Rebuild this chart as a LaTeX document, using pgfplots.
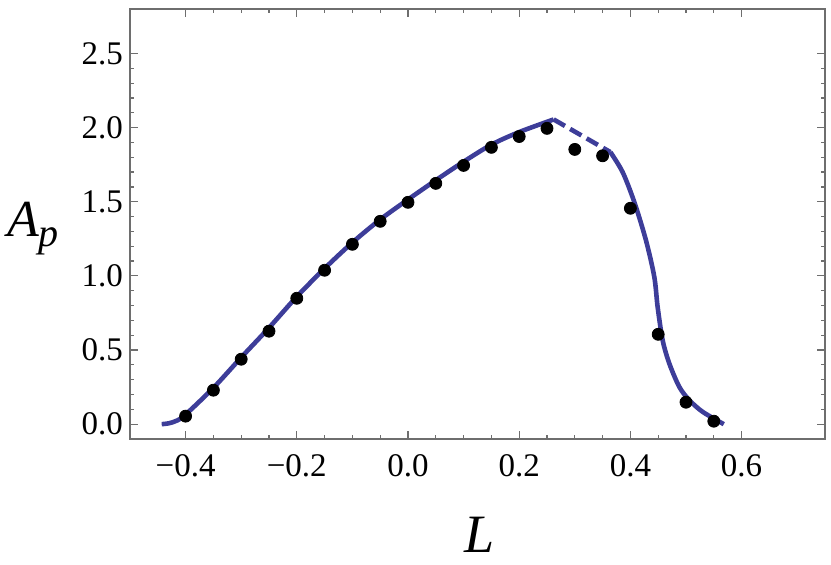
\documentclass[border=0pt]{standalone}
\usepackage{pgfplots}
\pgfplotsset{compat=1.18}
\usepackage{fontspec}
\setmainfont{Liberation Serif}
\definecolor{mmablue}{RGB}{61,61,153}
\definecolor{framegray}{RGB}{110,110,110}
\begin{document}
\begin{tikzpicture}
\begin{axis}[
    scale only axis,
    width=347.5pt, height=215pt,
    xmin=-0.5, xmax=0.75,
    ymin=-0.1, ymax=2.8,
    axis line style={framegray, line width=0.6pt},
    tick style={framegray, line width=0.6pt},
    major tick length=4pt,
    minor tick length=2pt,
    tick align=inside,
    xtick={-0.4,-0.2,0,0.2,0.4,0.6},
    xticklabels={−0.4,−0.2,0.0,0.2,0.4,0.6},
    ytick={0,0.5,1,1.5,2,2.5},
    yticklabels={0.0,0.5,1.0,1.5,2.0,2.5},
    minor x tick num=3,
    minor y tick num=4,
    ticklabel style={font=\fontsize{16.5}{18}\selectfont, black},
    xticklabel style={yshift=-4pt},
    yticklabel style={xshift=0pt},
    clip=false,
]
    % fitted curve
    \addplot[mmablue, line width=2.3pt, smooth, tension=0.5] coordinates {
        (-0.443,0.0) (-0.43,0.006) (-0.415,0.025) (-0.4,0.065)
        (-0.35,0.245) (-0.3,0.45) (-0.25,0.65) (-0.2,0.86)
        (-0.15,1.05) (-0.1,1.225) (-0.05,1.38) (0,1.515)
        (0.05,1.645) (0.1,1.77) (0.15,1.885) (0.2,1.97)
        (0.262,2.055)
    };
    \addplot[mmablue, line width=2.3pt, dash pattern=on 6.5pt off 3pt] coordinates {
        (0.262,2.055) (0.364,1.835)
    };
    \addplot[mmablue, line width=2.3pt, smooth, tension=0.5] coordinates {
        (0.364,1.835) (0.386,1.70) (0.407,1.498) (0.428,1.24)
        (0.443,0.993) (0.449,0.79) (0.458,0.566) (0.47,0.409)
        (0.488,0.251) (0.506,0.162) (0.53,0.083) (0.568,0.0)
    };
    % numerical points
    \addplot[only marks, mark=*, mark size=3pt, black] coordinates {
        (-0.4,0.054) (-0.35,0.229) (-0.3,0.438) (-0.25,0.627)
        (-0.2,0.849) (-0.15,1.038) (-0.1,1.213) (-0.05,1.368)
        (0,1.496) (0.05,1.624) (0.1,1.745) (0.15,1.867)
        (0.2,1.94) (0.25,1.995) (0.3,1.853) (0.35,1.81)
        (0.4,1.456) (0.45,0.606) (0.5,0.148) (0.55,0.02)
    };
\end{axis}
\node[font=\fontsize{27}{30}\selectfont\itshape, anchor=base] at (175pt,-57pt) {L};
\node[font=\fontsize{26}{30}\selectfont\itshape, anchor=base west] at (-65pt,101pt) {A\raisebox{-0.4ex}{\fontsize{20}{24}\selectfont p}};
\pgfresetboundingbox
\path (current axis.south west) ++(-65pt,-63pt) coordinate (bl);
\path (current axis.north east) ++(3pt,4.5pt) coordinate (tr);
\path (bl) rectangle (tr);
\end{tikzpicture}
\end{document}
